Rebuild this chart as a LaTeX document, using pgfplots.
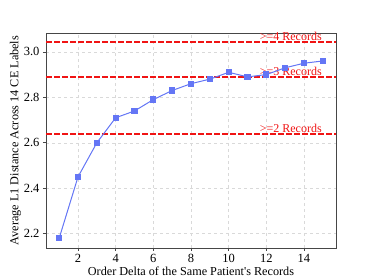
\documentclass[border=0pt]{standalone}
\usepackage{pgfplots}
\pgfplotsset{compat=1.18}
\usepackage{fontspec}
\setmainfont{Liberation Serif}
\definecolor{lineblue}{RGB}{100,118,245}
\definecolor{framegray}{RGB}{70,70,70}
\definecolor{refred}{RGB}{240,20,20}
\begin{document}
\begin{tikzpicture}
\begin{axis}[
  scale only axis,
  width=290pt, height=215pt,
  xmin=0.3, xmax=15.7, ymin=2.137, ymax=3.083,
  xtick={2,4,6,8,10,12,14},
  ytick={2.2,2.4,2.6,2.8,3.0},
  yticklabel style={/pgf/number format/.cd,fixed,fixed zerofill,precision=1},
  /pgf/number format/assume math mode=true,
  tick label style={font=\fontsize{12.5}{14}\selectfont, black},
  label style={font=\fontsize{12.2}{14}\selectfont},
  xlabel={Order Delta of the Same Patient\textquotesingle s Records},
  ylabel={Average L1 Distance Across 14 CE Labels},
  xlabel style={yshift=3pt},
  ylabel style={yshift=-4pt},
  tick align=outside,
  xtick pos=bottom, ytick pos=left,
  major tick length=3pt,
  tick style={framegray, line width=0.6pt},
  axis line style={framegray, line width=0.8pt},
  grid=major,
  grid style={dashed, gray!30, line width=0.4pt},
  clip=false,
]
\addplot[draw=refred, line width=1.8pt, dash pattern=on 5.5pt off 2.5pt, forget plot] coordinates {(0.3,3.043) (15.7,3.043)};
\addplot[draw=refred, line width=1.8pt, dash pattern=on 5.5pt off 2.5pt, forget plot] coordinates {(0.3,2.89) (15.7,2.89)};
\addplot[draw=refred, line width=1.8pt, dash pattern=on 5.5pt off 2.5pt, forget plot] coordinates {(0.3,2.638) (15.7,2.638)};
\node[anchor=south east, text=refred, inner sep=0pt, font=\fontsize{12}{13}\selectfont] at (axis cs:14.95,3.048) {>=4 Records};
\node[anchor=south east, text=refred, inner sep=0pt, font=\fontsize{12}{13}\selectfont] at (axis cs:14.95,2.896) {>=3 Records};
\node[anchor=south east, text=refred, inner sep=0pt, font=\fontsize{12}{13}\selectfont] at (axis cs:14.95,2.644) {>=2 Records};
\addplot[lineblue, line width=1pt, mark=square*, mark size=2.6pt, mark options={solid, fill=lineblue}] coordinates {
(1,2.18) (2,2.45) (3,2.60) (4,2.71) (5,2.74) (6,2.79) (7,2.83) (8,2.86) (9,2.88) (10,2.91) (11,2.89) (12,2.90) (13,2.93) (14,2.95) (15,2.96)
};
\end{axis}
\path ([shift={(-46pt,-32pt)}]current axis.south west) rectangle ([shift={(38pt,33pt)}]current axis.north east);
\end{tikzpicture}
\end{document}
